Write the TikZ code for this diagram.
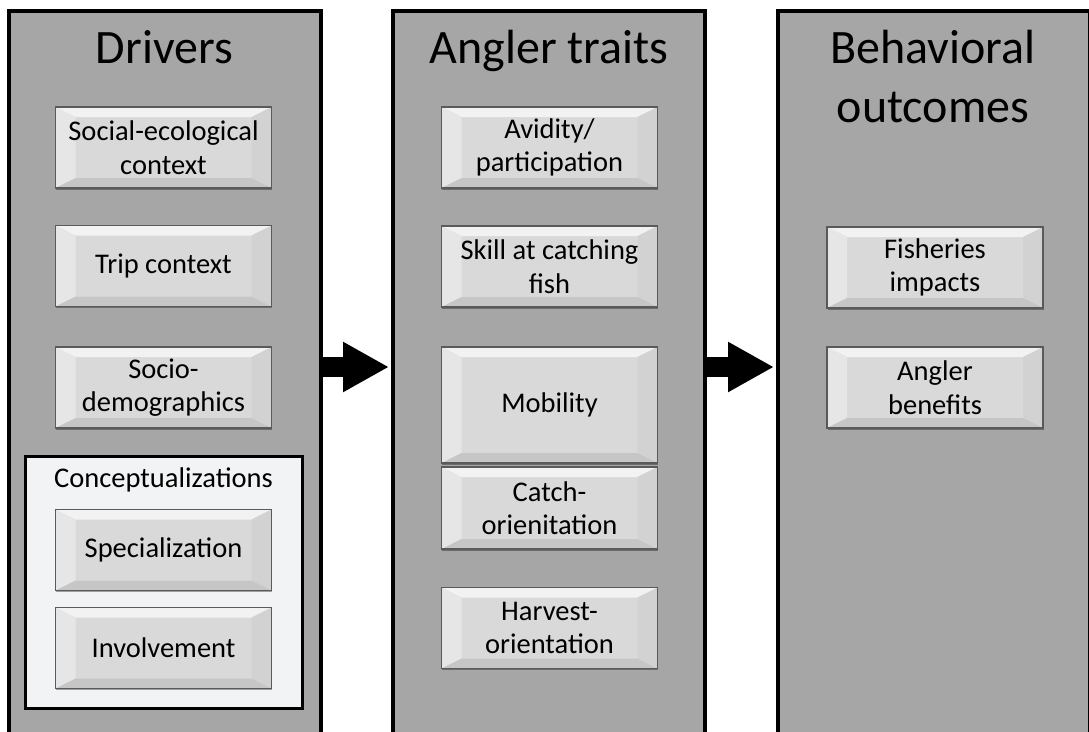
\documentclass[tikz,border=0pt]{standalone}
\usepackage{fontspec}
\setmainfont{Carlito}
\usetikzlibrary{arrows.meta,shadows,calc}
\definecolor{colfill}{HTML}{A6A6A6}
\definecolor{face}{HTML}{D9D9D9}
\definecolor{bevtop}{HTML}{F2F2F2}
\definecolor{bevleft}{HTML}{E6E6E6}
\definecolor{bevright}{HTML}{D2D2D2}
\definecolor{bevbot}{HTML}{C6C6C6}
\definecolor{bevline}{HTML}{5A5A5A}
\definecolor{concfill}{HTML}{F2F3F5}
\def\ppb{path picture bounding box}
\begin{document}
\begin{tikzpicture}[x=1pt,y=-1pt,
  column/.style={draw=black,line width=4pt,fill=colfill,minimum width=312pt,minimum height=800pt,anchor=north,inner sep=0pt},
  title/.style={font=\fontsize{48}{59}\selectfont,align=center,inner sep=0pt},
  bevelbox/.style={draw=bevline,line width=1.2pt,fill=face,minimum width=216pt,minimum height=81pt,inner sep=0pt,align=center,
    font=\fontsize{28.5}{33.5}\selectfont,
    drop shadow={shadow xshift=0.5pt,shadow yshift=-1.8pt,fill=black,opacity=0.35},
    path picture={
      \fill[bevtop] (\ppb.north west) -- (\ppb.north east) -- ([shift={(-20,10)}]\ppb.north east) -- ([shift={(20,10)}]\ppb.north west) -- cycle;
      \fill[bevleft] (\ppb.north west) -- ([shift={(20,10)}]\ppb.north west) -- ([shift={(20,-10)}]\ppb.south west) -- (\ppb.south west) -- cycle;
      \fill[bevright] (\ppb.north east) -- ([shift={(-20,10)}]\ppb.north east) -- ([shift={(-20,-10)}]\ppb.south east) -- (\ppb.south east) -- cycle;
      \fill[bevbot] (\ppb.south west) -- ([shift={(20,-10)}]\ppb.south west) -- ([shift={(-20,-10)}]\ppb.south east) -- (\ppb.south east) -- cycle;
    }},
  concbox/.style={draw=black,line width=3pt,fill=concfill,minimum width=277pt,minimum height=252pt,inner sep=0pt},
  flow/.style={-{Triangle[length=46pt,width=47pt]},line width=20pt,shorten >=2pt}
]
\useasboundingbox (0,0) rectangle (1089,731);
\clip (0,0) rectangle (1089,731);
\fill[white] (0,0) rectangle (1089,731);
% columns
\node[column] (col1) at (164.5,9) {};
\node[column] (col2) at (549,9) {};
\node[column] (col3) at (934,9) {};
% titles
\node[title,anchor=base] (t1) at (164.5,63) {Drivers};
\node[title,anchor=base] (t2) at (549,63) {Angler traits};
\node[title] (t3) at (933,77) {Behavioral\\outcomes};
% drivers
\node[bevelbox] (se) at (163.5,147.5) {Social-ecological\\context};
\node[bevelbox] (trip) at (163.5,266) {Trip context};
\node[bevelbox] (socio) at (163.5,387.5) {Socio-\\demographics};
\node[concbox] (conc) at (163.5,582) {};
\node[font=\fontsize{28.5}{33}\selectfont,anchor=base] (ctitle) at (163.5,487) {Conceptualizations};
\node[bevelbox] (spec) at (163.5,550) {Specialization};
\node[bevelbox] (inv) at (163.5,648) {Involvement};
% angler traits
\node[bevelbox] (avid) at (549.5,147.5) {Avidity/\\participation};
\node[bevelbox] (skill) at (549.5,266.5) {Skill at catching\\fish};
\node[bevelbox,minimum height=116pt] (mob) at (549.5,405) {Mobility};
\node[bevelbox,minimum height=82pt] (catch) at (549.5,508) {Catch-\\orienitation};
\node[bevelbox] (harv) at (549.5,628) {Harvest-\\orientation};
% outcomes
\node[bevelbox] (fish) at (935,267.5) {Fisheries\\impacts};
\node[bevelbox] (ben) at (935,387.5) {Angler\\benefits};
% arrows
\coordinate (ay) at (0,367);
\draw[flow] (col1.east |- ay) -- (col2.west |- ay);
\draw[flow] (col2.east |- ay) -- (col3.west |- ay);
\end{tikzpicture}
\end{document}
